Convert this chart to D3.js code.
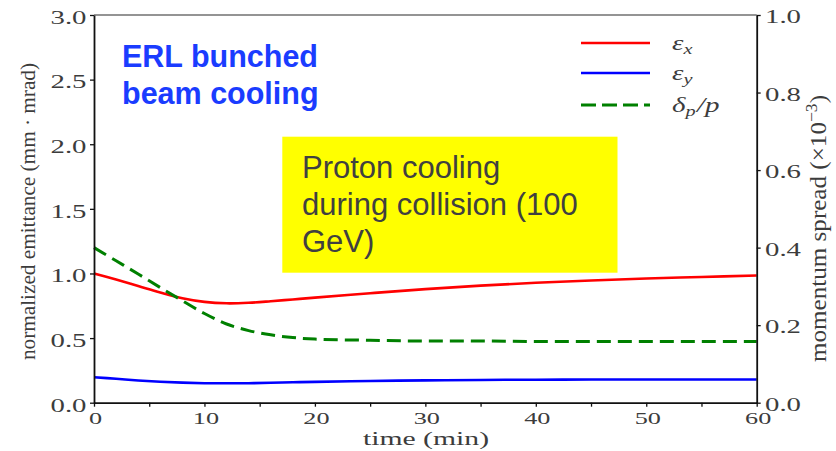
<!DOCTYPE html>
<html>
<head>
<meta charset="utf-8">
<script src="https://cdn.jsdelivr.net/npm/d3@7/dist/d3.min.js"></script>
<style>
  html, body { margin: 0; padding: 0; background: #fff; }
  svg { display: block; }
</style>
</head>
<body>
<svg id="chart" width="836" height="451"></svg>
<script>
// ---- data ----
const time = [0, 2, 4, 6, 8, 10, 12, 14, 16, 18, 20, 25, 30, 35, 40, 45, 50, 55, 60];
// normalized emittance (mm·mrad), left axis
const emitX = [1.0, 0.953, 0.903, 0.853, 0.808, 0.780, 0.769, 0.773, 0.785, 0.799, 0.813, 0.847, 0.879, 0.906, 0.928, 0.946, 0.961, 0.973, 0.984];
const emitY = [0.197, 0.185, 0.172, 0.162, 0.155, 0.151, 0.150, 0.151, 0.154, 0.158, 0.161, 0.168, 0.173, 0.176, 0.178, 0.179, 0.180, 0.180, 0.180];
// momentum spread (x10^-3), right axis
const momSpread = [0.400, 0.366, 0.332, 0.297, 0.263, 0.230, 0.203, 0.186, 0.175, 0.168, 0.164, 0.161, 0.159, 0.159, 0.158, 0.158, 0.158, 0.158, 0.158];

const xTicks = [0, 5, 10, 15, 20, 25, 30, 35, 40, 45, 50, 55, 60];
const yTicksLeft = [0, 0.5, 1.0, 1.5, 2.0, 2.5, 3.0];
const yTicksRight = [0, 0.2, 0.4, 0.6, 0.8, 1.0];

const legendNames = [["ε", "x", ""], ["ε", "y", ""], ["δ", "p", "/p"]];
const titleLines = ["ERL bunched", "beam cooling"];
const noteLines = ["Proton cooling", "during collision (100", "GeV)"];

// ---- layout ----
const L = 94, R = 756.7, T = 15, B = 402.7;
const svg = d3.select("#chart");
const serif = "'Liberation Serif', 'Times New Roman', serif";
const sans = "'Liberation Sans', Arial, sans-serif";
const textGrey = "#3c3c3c";

const x = d3.scaleLinear().domain([0, 60]).range([L, R]);
const yL = d3.scaleLinear().domain([0, 3]).range([B, T]);
const yR = d3.scaleLinear().domain([0, 1]).range([B, T]);

// ---- curves ----
const curve = d3.curveCatmullRom.alpha(0.5);
const lineL = d3.line().x((d, i) => x(time[i])).y(d => yL(d)).curve(curve);
const lineR = d3.line().x((d, i) => x(time[i])).y(d => yR(d)).curve(curve);

const series = [
  { values: emitX, gen: lineL, color: "#ff0000", width: 2.6, dash: null },
  { values: emitY, gen: lineL, color: "#0000ff", width: 2.6, dash: null },
  { values: momSpread, gen: lineR, color: "#008000", width: 3, dash: "14 7" }
];

svg.append("g").selectAll("path").data(series).join("path")
  .attr("d", s => s.gen(s.values))
  .attr("fill", "none")
  .attr("stroke", s => s.color)
  .attr("stroke-width", s => s.width)
  .attr("stroke-dasharray", s => s.dash);

// ---- frame ----
svg.append("line").attr("x1", L).attr("x2", R).attr("y1", T).attr("y2", T)
  .attr("stroke", "#707070").attr("stroke-width", 1.5);

// ---- axes ----
function styleAxis(g) {
  g.select(".domain").attr("stroke", "#111").attr("stroke-width", 1.8);
  g.selectAll(".tick line").attr("stroke", "#111").attr("stroke-width", 1.3);
  g.selectAll(".tick text").attr("fill", textGrey).attr("font-family", serif);
}

const gLeft = svg.append("g").attr("transform", `translate(${L},0)`)
  .call(d3.axisLeft(yL).tickValues(yTicksLeft).tickSize(4).tickSizeOuter(0).tickFormat(d3.format(".1f")));
styleAxis(gLeft);
gLeft.selectAll(".tick text")
  .attr("x", null).attr("dy", null).attr("font-size", 18)
  .attr("text-anchor", "end")
  .attr("transform", "translate(-7.5,8.3) scale(1.6,1)");

const gRight = svg.append("g").attr("transform", `translate(${R},0)`)
  .call(d3.axisRight(yR).tickValues(yTicksRight).tickSize(4).tickSizeOuter(0).tickFormat(d3.format(".1f")));
styleAxis(gRight);
gRight.selectAll(".tick text")
  .attr("x", null).attr("dy", null).attr("font-size", 18)
  .attr("text-anchor", "start")
  .attr("transform", "translate(8.3,7.8) scale(1.6,1)");

const gBottom = svg.append("g").attr("transform", `translate(0,${B})`)
  .call(d3.axisBottom(x).tickValues(xTicks).tickSize(4).tickSizeOuter(0)
    .tickFormat(d => d % 10 === 0 ? d3.format("d")(d) : ""));
styleAxis(gBottom);
gBottom.selectAll(".tick text")
  .attr("y", null).attr("dy", null).attr("font-size", 17.5)
  .attr("text-anchor", "middle")
  .attr("transform", "translate(1,20.8) scale(1.5,1)");

// ---- axis titles ----
svg.append("text")
  .attr("transform", "translate(426,445) scale(1.65,1)")
  .attr("text-anchor", "middle")
  .attr("font-family", serif).attr("font-size", 18).attr("fill", textGrey)
  .text("time (min)");

svg.append("text")
  .attr("transform", "translate(35,360) rotate(-90) scale(1,1.1)")
  .attr("font-family", serif).attr("font-size", 20).attr("fill", textGrey)
  .attr("textLength", 297).attr("lengthAdjust", "spacingAndGlyphs")
  .text("normalized emittance (mm · mrad)");

const rLab = svg.append("text")
  .attr("transform", "translate(826,362) rotate(-90) scale(1,1.15)")
  .attr("font-family", serif).attr("font-size", 20).attr("fill", textGrey)
  .attr("textLength", 267).attr("lengthAdjust", "spacingAndGlyphs");
rLab.append("tspan").text("momentum spread (×10");
rLab.append("tspan").attr("font-size", 14).attr("dy", -8).text("−3");
rLab.append("tspan").attr("dy", 8).text(")");

// ---- legend ----
const legY = [43, 73, 105];
const lg = svg.append("g").selectAll("g").data(series).join("g")
  .attr("transform", (d, i) => `translate(0,${legY[i]})`);
lg.append("line").attr("x1", 581).attr("x2", 650)
  .attr("stroke", d => d.color).attr("stroke-width", d => d.width)
  .attr("stroke-dasharray", d => d.dash ? "15 6" : null);
const lt = lg.append("text")
  .attr("transform", "translate(672,6.5) scale(1.45,1)")
  .attr("font-family", serif).attr("font-style", "italic").attr("font-size", 20).attr("fill", textGrey);
lt.append("tspan").text((d, i) => legendNames[i][0]);
lt.append("tspan").attr("font-size", 14).attr("dy", 4).text((d, i) => legendNames[i][1]);
lt.append("tspan").attr("dy", -4).attr("dx", 1).text((d, i) => legendNames[i][2]);

// ---- annotations ----
svg.append("g").selectAll("text").data(titleLines).join("text")
  .attr("x", 122).attr("y", (d, i) => 66.5 + i * 37)
  .attr("font-family", sans).attr("font-weight", "bold").attr("font-size", 30.5)
  .attr("fill", "#1a3cff")
  .text(d => d);

svg.append("rect").attr("x", 282.3).attr("y", 136.7).attr("width", 335.2).attr("height", 136)
  .attr("fill", "#ffff00");
svg.append("g").selectAll("text").data(noteLines).join("text")
  .attr("x", 302).attr("y", (d, i) => 178 + i * 37)
  .attr("font-family", sans).attr("font-size", 31)
  .attr("fill", "#404040")
  .text(d => d);
</script>
</body>
</html>
